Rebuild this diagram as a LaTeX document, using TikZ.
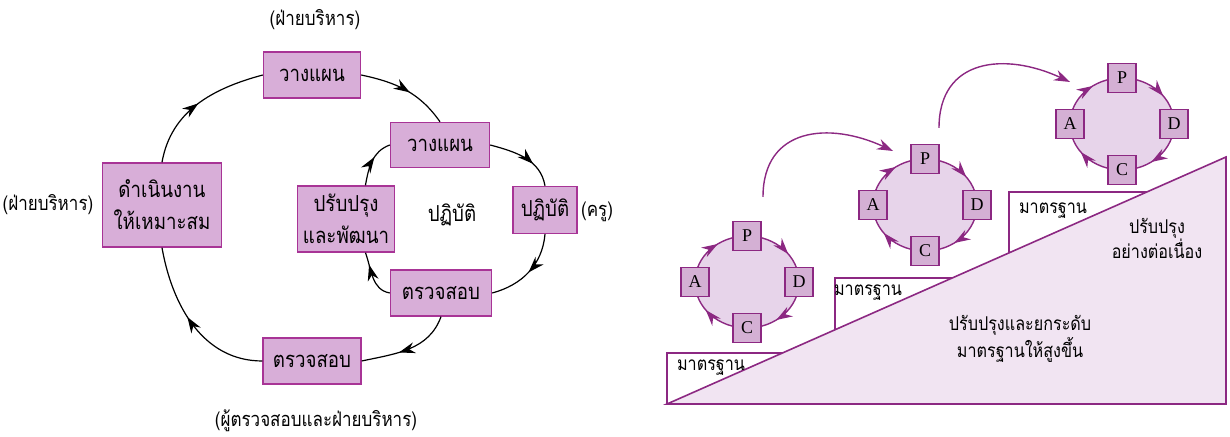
\documentclass[tikz,border=0pt]{standalone}
\usepackage{fontspec}
\setmainfont{Liberation Serif}
\newfontfamily\thaifont[Script=Thai,FakeStretch=0.85]{Loma}
\usetikzlibrary{arrows.meta,calc,positioning,decorations.markings}

\definecolor{boxfill}{RGB}{216,174,216}
\definecolor{boxline}{RGB}{168,52,150}
\definecolor{pdcafill}{RGB}{212,176,212}
\definecolor{purp}{RGB}{140,40,130}
\definecolor{ringfill}{RGB}{231,212,234}
\definecolor{stepfill}{RGB}{241,228,242}

\tikzset{
  midarrow/.style={postaction={decorate},
    decoration={markings,mark=at position #1 with {\arrow{Stealth[length=8pt,width=5.5pt]}}}},
  cyclebox/.style={draw=boxline,fill=boxfill,line width=0.7pt,align=center,inner sep=1pt,
    font=\thaifont\fontsize{11}{16}\selectfont},
  cyclearc/.style={line width=0.6pt,black},
  sidelabel/.style={font=\thaifont\fontsize{10}{12}\selectfont},
  pdcabox/.style={draw=purp,fill=pdcafill,line width=0.7pt,minimum width=14pt,
    minimum height=14.5pt,inner sep=0pt,font=\fontsize{9}{10}\selectfont},
  ringarc/.style={draw=purp,line width=0.7pt},
  stepline/.style={draw=purp,line width=0.8pt},
  steplabel/.style={font=\thaifont\fontsize{9.5}{12.5}\selectfont,align=center},
}

\begin{document}
\begin{tikzpicture}[x=0.5pt,y=0.5pt]
\useasboundingbox (0,0) rectangle (1230,437);

% left: two cycles
\node[cyclebox,minimum width=48.5pt,minimum height=23pt] (plan1) at (312,362) {วางแผน};
\node[cyclebox,minimum width=49.5pt,minimum height=22.5pt] (plan2) at (440,292) {วางแผน};
\node[cyclebox,minimum width=59.5pt,minimum height=42pt] (adjust) at (162,232) {ดำเนินงาน\\ให้เหมาะสม};
\node[cyclebox,minimum width=48.5pt,minimum height=33pt] (improve) at (346,218) {ปรับปรุง\\และพัฒนา};
\node[cyclebox,minimum width=32pt,minimum height=23.5pt] (dobox) at (545,227) {ปฏิบัติ};
\node[cyclebox,minimum width=50.5pt,minimum height=23pt] (check2) at (441,144) {ตรวจสอบ};
\node[cyclebox,minimum width=49pt,minimum height=23pt] (check1) at (312,76) {ตรวจสอบ};

\node[sidelabel] (admtop) at (315,417) {(ฝ่ายบริหาร)};
\node[sidelabel] (admleft) at (48,232) {(ฝ่ายบริหาร)};
\node[sidelabel] (teacher) at (597,225) {(ครู)};
\node[sidelabel] (auditor) at (316,16) {(ผู้ตรวจสอบและฝ่ายบริหาร)};
\node[cyclebox,draw=none,fill=none] (dotext) at (452,222) {ปฏิบัติ};

\draw[cyclearc,midarrow=0.55] (check1.west) to[out=180,in=-80] (adjust.south);
\draw[cyclearc,midarrow=0.5] (adjust.north) to[out=80,in=195] (plan1.west);
\draw[cyclearc,midarrow=0.55] (plan1.east) to[out=-12,in=125] (plan2.north);
\draw[cyclearc,midarrow=0.65] (plan2.east) to[out=-15,in=100] (dobox.north);
\draw[cyclearc,midarrow=0.5] (dobox.south) to[out=-95,in=15] (check2.east);
\draw[cyclearc,midarrow=0.6] (check2.south) to[out=-110,in=12] (check1.east);
\draw[cyclearc,midarrow=0.75] (check2.west) to[out=170,in=-70] (improve.-60);
\draw[cyclearc,midarrow=0.6] (improve.60) to[out=80,in=200] (plan2.west);

% right: steps
\coordinate (bl) at (667,33);
\coordinate (br) at (1226,33);
\coordinate (tr) at (1226,280);
\fill[stepfill] (bl) -- (br) -- (tr) -- cycle;
\draw[stepline] (bl) -- (br) -- (tr) -- cycle;
\coordinate (s1) at ($(bl)!0.2065!(tr)$);
\coordinate (s2a) at ($(bl)!0.3005!(tr)$);
\coordinate (s2b) at ($(bl)!0.5101!(tr)$);
\coordinate (s3a) at ($(bl)!0.6118!(tr)$);
\coordinate (s3b) at ($(bl)!0.8583!(tr)$);
\draw[stepline] (bl) -- (667,84) -- (s1);
\draw[stepline] (s2a) -- (835,159) -- (s2b);
\draw[stepline] (s3a) -- (1009,245) -- (s3b);

\node[steplabel] (std1) at (711,69) {มาตรฐาน};
\node[steplabel] (std2) at (868,144) {มาตรฐาน};
\node[steplabel] (std3) at (1053,226) {มาตรฐาน};
\node[steplabel] (keepup) at (1157,199) {ปรับปรุง\\อย่างต่อเนื่อง};
\node[steplabel] (raise) at (1020,98) {ปรับปรุงและยกระดับ\\มาตรฐานให้สูงขึ้น};

% PDCA rings
\foreach \n/\cx/\cy in {1/747/155, 2/925/232, 3/1122/313}{
  \fill[ringfill] (\cx,\cy) ellipse [x radius=52,y radius=46];
  \draw[ringarc,midarrow=0.6] (\cx,\cy+46) arc[start angle=90,end angle=0,x radius=52,y radius=46];
  \draw[ringarc,midarrow=0.6] (\cx+52,\cy) arc[start angle=0,end angle=-90,x radius=52,y radius=46];
  \draw[ringarc,midarrow=0.6] (\cx,\cy-46) arc[start angle=-90,end angle=-180,x radius=52,y radius=46];
  \draw[ringarc,midarrow=0.6] (\cx-52,\cy) arc[start angle=180,end angle=90,x radius=52,y radius=46];
  \node[pdcabox] (p\n) at (\cx,\cy+46) {P};
  \node[pdcabox] (d\n) at (\cx+52,\cy) {D};
  \node[pdcabox] (c\n) at (\cx,\cy-46) {C};
  \node[pdcabox] (a\n) at (\cx-52,\cy) {A};
}

\coordinate (jump1a) at (763,240);
\coordinate (jump1b) at (893,286);
\coordinate (jump2a) at (939,309);
\coordinate (jump2b) at (1070,355);
\draw[ringarc,-{Stealth[length=8pt,width=5.5pt]}] (jump1a) to[out=90,in=155,looseness=1.3] (jump1b);
\draw[ringarc,-{Stealth[length=8pt,width=5.5pt]}] (jump2a) to[out=90,in=155,looseness=1.3] (jump2b);
\end{tikzpicture}
\end{document}
